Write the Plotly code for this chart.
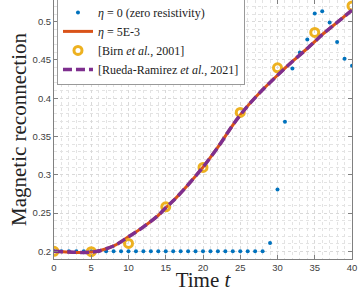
import plotly.graph_objects as go

# eta = 0 (zero resistivity), sampled every unit of time
t_ideal = list(range(0, 41))
rec_ideal = [0.2] * 29 + [0.2108, 0.2809, 0.3692, 0.4389, 0.4597, 0.4767,
                          0.5107, 0.5136, 0.4989, 0.4736, 0.4514, 0.4423]

# eta = 5E-3
t_res = [0, 2, 4, 5, 6, 8, 10, 12, 14, 15, 16, 18, 20, 22, 24, 25, 26, 28, 30, 32, 34, 35, 36, 38, 40]
rec_res = [0.200, 0.1990, 0.1985, 0.1990, 0.2005, 0.207, 0.219, 0.232, 0.247, 0.257, 0.266,
           0.287, 0.310, 0.336, 0.365, 0.378, 0.390, 0.411, 0.430, 0.448, 0.465, 0.474,
           0.483, 0.499, 0.515]

# Birn et al., 2001
t_birn = [0, 5, 10, 15, 20, 25, 30, 35, 40]
rec_birn = [0.2, 0.1995, 0.2104, 0.2582, 0.3096, 0.3814, 0.4397, 0.4859, 0.5206]

# Rueda-Ramirez et al., 2021 (same curve as eta = 5E-3)
t_rr = t_res
rec_rr = rec_res

x_ticks = [0, 5, 10, 15, 20, 25, 30, 35, 40]
y_ticks = [0.2, 0.25, 0.3, 0.35, 0.4, 0.45, 0.5]
y_tick_text = ["0.2", "0.25", "0.3", "0.35", "0.4", "0.45", "0.5"]

fig = go.Figure()
fig.add_trace(go.Scatter(x=t_ideal, y=rec_ideal, mode="markers",
                         name="<i>η</i> = 0 (zero resistivity)",
                         marker=dict(color="#0072BD", size=4)))
fig.add_trace(go.Scatter(x=t_res, y=rec_res, mode="lines", name="<i>η</i> = 5E-3",
                         line=dict(color="#D95319", width=3, shape="spline")))
fig.add_trace(go.Scatter(x=t_birn, y=rec_birn, mode="markers",
                         name="[Birn <i>et al.</i>, 2001]",
                         marker=dict(symbol="circle-open", size=8, color="#EDB120",
                                     line=dict(width=3, color="#EDB120"))))
fig.add_trace(go.Scatter(x=t_rr, y=rec_rr, mode="lines",
                         name="[Rueda-Ramirez <i>et al.</i>, 2021]",
                         line=dict(color="#7E2F8E", width=3.5, dash="9px,4px", shape="spline")))

axis_common = dict(
    showline=True, linecolor="#808080", linewidth=1, mirror="ticks",
    ticks="inside", ticklen=4, tickcolor="#808080", tickwidth=1,
    showgrid=True, gridcolor="#d9d9d9", gridwidth=1, griddash="dot",
    zeroline=False,
    tickfont=dict(family="Liberation Sans", size=9.5, color="#404040"),
)

fig.update_xaxes(range=[0, 40], tickvals=x_ticks,
                 minor=dict(dtick=1, showgrid=True, gridcolor="#e3e3e3", griddash="dot", gridwidth=1),
                 title=dict(text="Time <i>t</i>", font=dict(family="Liberation Serif", size=21, color="#222"),
                            standoff=3),
                 **axis_common)
fig.update_yaxes(range=[0.19, 0.5283], tickvals=y_ticks, ticktext=y_tick_text,
                 minor=dict(dtick=0.01, showgrid=True, gridcolor="#e3e3e3", griddash="dot", gridwidth=1),
                 title=dict(text="Magnetic reconnection", font=dict(family="Liberation Serif", size=21, color="#222"),
                            standoff=0),
                 **axis_common)

fig.update_layout(
    width=359, height=292,
    margin=dict(l=54, r=7, t=0, b=33, autoexpand=False),
    paper_bgcolor="white", plot_bgcolor="white",
    showlegend=True,
    legend=dict(x=0.01, y=1.012, xanchor="left", yanchor="top",
                bgcolor="white", bordercolor="#999999", borderwidth=1,
                font=dict(family="Liberation Serif", size=12, color="#222"),
                itemwidth=30, tracegroupgap=0),
)

fig.write_html("out.html", config={"displayModeBar": False},
               post_script="document.body.style.margin='0';document.body.style.overflow='hidden';")
